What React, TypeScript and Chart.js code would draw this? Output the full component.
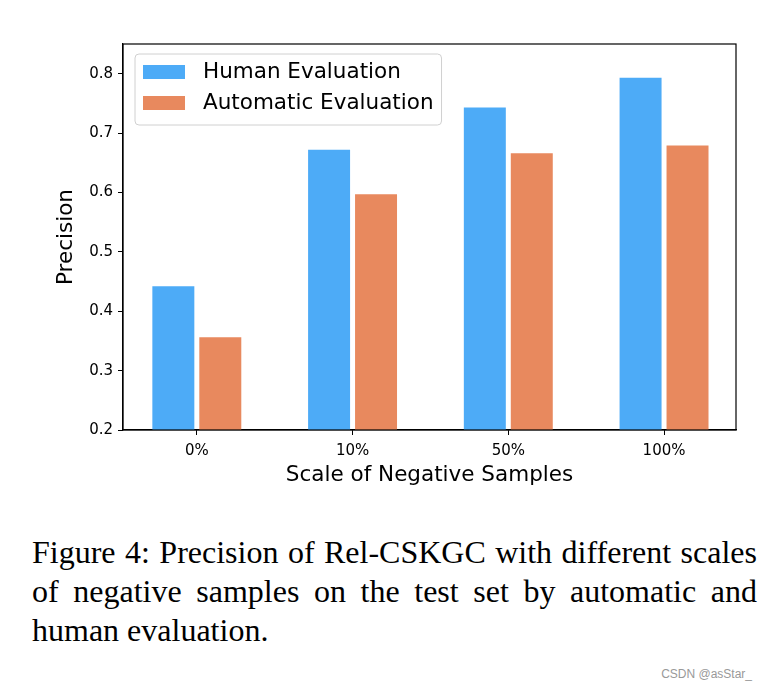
import React, { useEffect, useRef } from "react";
import { Chart, registerables } from "chart.js";

Chart.register(...registerables);

const categories = ["0%", "10%", "50%", "100%"];
const humanEval = [0.442, 0.672, 0.743, 0.793];
const autoEval = [0.356, 0.597, 0.666, 0.679];
const seriesNames = ["Human Evaluation", "Automatic Evaluation"];
const seriesColors = ["#4dabf7", "#e8895e"];
const yMin = 0.2;
const yMax = 0.85;
const yStep = 0.1;
const xMin = -0.474;
const xMax = 3.462;
const xTitle = "Scale of Negative Samples";
const yTitle = "Precision";
const captionLines = [
  "Figure 4: Precision of Rel-CSKGC with different scales",
  "of negative samples on the test set by automatic and",
  "human evaluation.",
];
const watermark = "CSDN @asStar_";

const FONT = "'DejaVu Sans', sans-serif";

const framePlugin = {
  id: "frameAndLegend",
  afterDraw(chart: any) {
    const { ctx, chartArea } = chart;
    const { left, top, right, bottom } = chartArea;
    ctx.save();
    ctx.strokeStyle = "#000";
    ctx.lineWidth = 1.2;
    ctx.strokeRect(left, top, right - left, bottom - top);

    // legend inside the plot area, upper-left
    const fontSize = 21.5;
    ctx.font = `${fontSize}px ${FONT}`;
    const items = chart.data.datasets.map((d: any) => ({
      label: d.label,
      color: d.backgroundColor,
    }));
    const textW = Math.max(...items.map((it: any) => ctx.measureText(it.label).width));
    const bx = left + 12;
    const by = top + 10;
    const rowH = 31;
    const bw = 8 + 42 + 18 + textW + 8;
    const bh = 8 + rowH * items.length + 1;
    const r = 4;
    ctx.beginPath();
    ctx.moveTo(bx + r, by);
    ctx.lineTo(bx + bw - r, by);
    ctx.quadraticCurveTo(bx + bw, by, bx + bw, by + r);
    ctx.lineTo(bx + bw, by + bh - r);
    ctx.quadraticCurveTo(bx + bw, by + bh, bx + bw - r, by + bh);
    ctx.lineTo(bx + r, by + bh);
    ctx.quadraticCurveTo(bx, by + bh, bx, by + bh - r);
    ctx.lineTo(bx, by + r);
    ctx.quadraticCurveTo(bx, by, bx + r, by);
    ctx.closePath();
    ctx.fillStyle = "rgba(255,255,255,0.85)";
    ctx.fill();
    ctx.strokeStyle = "#d0d0d0";
    ctx.lineWidth = 1;
    ctx.stroke();
    items.forEach((it: any, i: number) => {
      const cy = by + 18 + i * rowH;
      ctx.fillStyle = it.color;
      ctx.fillRect(bx + 8, cy - 7, 42, 14);
      ctx.fillStyle = "#000";
      ctx.textBaseline = "middle";
      ctx.textAlign = "left";
      ctx.fillText(it.label, bx + 8 + 42 + 18, cy);
    });
    ctx.restore();
  },
};

function BarChart() {
  const ref = useRef<HTMLCanvasElement>(null);
  useEffect(() => {
    if (!ref.current) return;
    const chart = new Chart(ref.current, {
      type: "bar",
      data: {
        datasets: [
          {
            label: seriesNames[0],
            data: humanEval.map((v, i) => ({ x: i, y: v })),
            backgroundColor: seriesColors[0],
            categoryPercentage: 0.603,
            barPercentage: 0.894,
          },
          {
            label: seriesNames[1],
            data: autoEval.map((v, i) => ({ x: i, y: v })),
            backgroundColor: seriesColors[1],
            categoryPercentage: 0.603,
            barPercentage: 0.894,
          },
        ],
      },
      options: {
        animation: false,
        responsive: false,
        devicePixelRatio: 1,
        layout: { padding: { top: 44, right: 44, left: 0, bottom: 0 } },
        plugins: {
          legend: { display: false },
          tooltip: { enabled: false },
        },
        scales: {
          x: {
            type: "linear",
            min: xMin,
            max: xMax,
            offset: false,
            grid: {
              offset: false,
              drawOnChartArea: false,
              drawTicks: true,
              tickLength: 5,
              color: "#000",
            },
            border: { display: true, color: "#000", width: 1.2 },
            ticks: {
              stepSize: 1,
              includeBounds: false,
              color: "#000",
              font: { family: FONT, size: 15 },
              padding: 7,
              maxRotation: 0,
              callback: (v: any) => {
                const i = Math.round(Number(v));
                return Math.abs(Number(v) - i) < 1e-6 ? categories[i] ?? "" : "";
              },
            },
            title: {
              display: true,
              text: xTitle,
              color: "#000",
              font: { family: FONT, size: 21.5 },
              padding: { top: 0, bottom: 0 },
            },
            afterFit(scale: any) {
              scale.height = 58;
            },
          },
          y: {
            min: yMin,
            max: yMax,
            grid: {
              drawOnChartArea: false,
              drawTicks: true,
              tickLength: 5,
              color: "#000",
            },
            border: { display: true, color: "#000", width: 1.2 },
            ticks: {
              stepSize: yStep,
              includeBounds: false,
              color: "#000",
              font: { family: FONT, size: 15 },
              padding: 5,
              callback: (v: any) => Number(v).toFixed(1),
            },
            title: {
              display: true,
              text: yTitle,
              color: "#000",
              font: { family: FONT, size: 21.5 },
              padding: { top: 54, bottom: 0 },
            },
            afterFit(scale: any) {
              scale.width = 123;
            },
          },
        },
      },
      plugins: [framePlugin],
    } as any);
    return () => chart.destroy();
  }, []);
  return <canvas ref={ref} width={780} height={488} style={{ display: "block" }} />;
}

export default function App() {
  return (
    <div
      style={{
        position: "absolute",
        left: 0,
        top: 0,
        width: 780,
        height: 690,
        background: "#fff",
        overflow: "hidden",
      }}
    >
      <BarChart />
      <div
        style={{
          position: "absolute",
          left: 32,
          top: 533,
          width: 725,
          fontFamily: "'Liberation Serif', 'Times New Roman', serif",
          fontSize: 32,
          lineHeight: "39px",
          color: "#000",
        }}
      >
        {captionLines.map((line, i) => (
          <div
            key={i}
            style={{
              textAlign: "justify",
              textAlignLast: i < captionLines.length - 1 ? "justify" : "left",
              whiteSpace: "nowrap",
            }}
          >
            {line}
          </div>
        ))}
      </div>
      <div
        style={{
          position: "absolute",
          right: 28,
          top: 667,
          fontFamily: "'Liberation Sans', Arial, sans-serif",
          fontSize: 12,
          color: "#999",
        }}
      >
        {watermark}
      </div>
    </div>
  );
}
